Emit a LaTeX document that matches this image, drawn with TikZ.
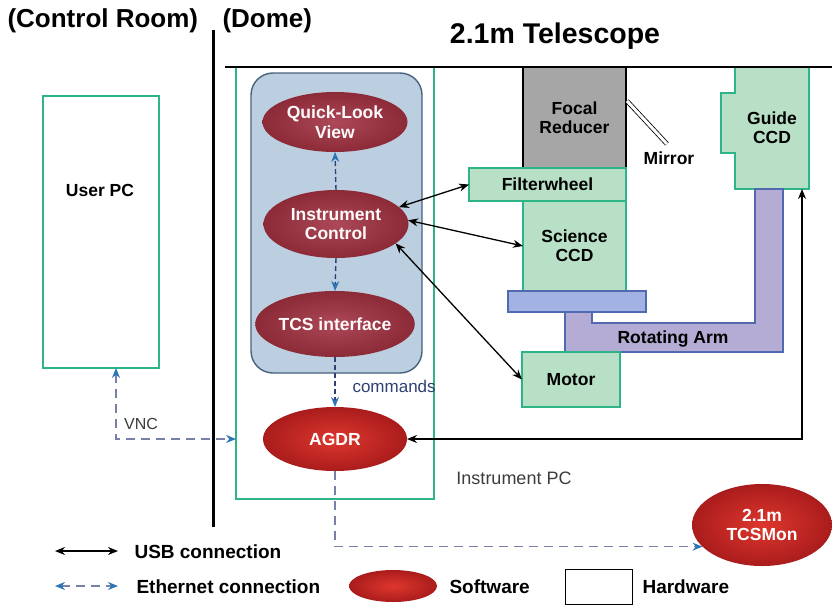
\documentclass[tikz,border=0pt]{standalone}
\usepackage{fontspec}
\setmainfont{Liberation Sans}
\usetikzlibrary{arrows.meta,shapes.geometric,calc}
\definecolor{hwfill}{RGB}{184,224,198}
\definecolor{hwdraw}{RGB}{45,180,135}
\definecolor{bluefill}{RGB}{188,207,224}
\definecolor{bluedraw}{RGB}{70,98,125}
\definecolor{swin}{RGB}{172,72,88}
\definecolor{swout}{RGB}{140,42,55}
\definecolor{redin}{RGB}{222,55,45}
\definecolor{redout}{RGB}{170,28,28}
\definecolor{frgray}{RGB}{166,166,166}
\definecolor{armfill}{RGB}{180,172,212}
\definecolor{platefill}{RGB}{162,178,226}
\definecolor{armdraw}{RGB}{80,105,175}
\definecolor{ethline}{RGB}{118,128,168}
\definecolor{ethtip}{RGB}{46,117,182}
\definecolor{navy}{RGB}{45,65,115}
\definecolor{txtgray}{RGB}{60,60,60}
\begin{document}
\begin{tikzpicture}[x=1pt,y=-1pt,
  lbl/.style={font=\bfseries\fontsize{17.5}{19}\selectfont, align=center, text=black},
  leg/.style={font=\bfseries\fontsize{19}{21}\selectfont, text=black},
  hw/.style={draw=hwdraw, fill=hwfill, line width=1.4pt, inner sep=0pt, outer sep=0pt},
  hwbox/.style={draw=hwdraw, line width=1.4pt, inner sep=0pt, outer sep=0pt},
  sw/.style={ellipse, inner sep=0pt, outer sep=0pt, inner color=swin, outer color=swout,
     text=white!92!pink, font=\bfseries\fontsize{17.5}{19.5}\selectfont, align=center},
  swred/.style={ellipse, inner sep=0pt, outer sep=0pt, inner color=redin, outer color=redout,
     text=white, font=\bfseries\fontsize{17.5}{19.5}\selectfont, align=center},
  usb/.style={black, line width=1.3pt, {Stealth[length=10pt,width=8pt]}-{Stealth[length=10pt,width=8pt]}},
  ethin/.style={navy, line width=1.4pt, dash pattern=on 5pt off 3pt, -{Stealth[length=10pt,width=8pt,color=ethtip]}},
  eth/.style={ethline, line width=1.3pt, dash pattern=on 9pt off 6pt},
  ethto/.style={eth, -{Stealth[length=10pt,width=8pt,color=ethtip]}},
  ethboth/.style={eth, {Stealth[length=10pt,width=8pt,color=ethtip]}-{Stealth[length=10pt,width=8pt,color=ethtip]}}
]
\useasboundingbox (0,0) rectangle (832,606);

% titles
\node[anchor=west, font=\bfseries\fontsize{26}{28}\selectfont] (tcr) at (4,21) {(Control Room)};
\node[anchor=west, font=\bfseries\fontsize{26}{28}\selectfont] (tdome) at (219,21) {(Dome)};
\node[font=\bfseries\fontsize{28.5}{30}\selectfont] (ttel) at (555,36) {2.1m Telescope};

% user PC
\node[hwbox, minimum width=116pt, minimum height=272pt] (userpc) at (101,232) {};
\node[lbl] (userpclbl) at (100,190) {User PC};

% instrument PC (dome box)
\node[hwbox, minimum width=198pt, minimum height=432pt] (ipc) at (335,283) {};
\node[font=\fontsize{18}{20}\selectfont, text=txtgray] (ipclbl) at (514,478) {Instrument PC};

% blue software box
\node[draw=bluedraw, fill=bluefill, line width=1.4pt, rounded corners=22pt,
      minimum width=171pt, minimum height=300pt, inner sep=0pt] (swbox) at (336.5,223) {};

% software ellipses
\node[sw, minimum width=145pt, minimum height=60pt] (ql) at (335,122) {Quick-Look\\View};
\node[sw, minimum width=145pt, minimum height=68pt] (ic) at (336,224) {Instrument\\Control};
\node[sw, minimum width=144pt, minimum height=66pt] (tcs) at (335,324) {TCS interface};
\node[swred, minimum width=144pt, minimum height=64pt] (agdr) at (335,439) {AGDR};
\node[swred, minimum width=140pt, minimum height=82pt] (tcsmon) at (762,525) {2.1m\\TCSMon};

% hardware
\node[draw=black, fill=frgray, line width=1.4pt, minimum width=103pt, minimum height=101pt, inner sep=0pt, lbl] (fr) at (574.5,117.5) {Focal\\Reducer};
\node[hw, minimum width=103pt, minimum height=90pt, lbl] (sci) at (574.5,246) {Science\\CCD};
\node[hw, minimum width=157pt, minimum height=33pt, lbl] (fw) at (547.5,184.5) {Filterwheel};

% mirror
\draw[double=white, double distance=3pt, line width=0.8pt] (627,101) -- (667,144);
\node[lbl] (mirlbl) at (669,158) {Mirror};

% guide CCD
\draw[hw] (735,67) -- (809,67) -- (809,189) -- (735,189) -- (735,153) -- (721,153) -- (721,93) -- (735,93) -- cycle;
\node[minimum width=74pt, minimum height=122pt, inner sep=0pt, outer sep=0pt, lbl] (gccd) at (772,128) {Guide\\CCD};

% rotating arm
\draw[fill=armfill, draw=armdraw, line width=1.2pt] (565,311) -- (592,311) -- (592,323) -- (755,323) -- (755,189) -- (783,189) -- (783,352) -- (565,352) -- cycle;
\node[draw=armdraw, fill=platefill, line width=1.2pt, minimum width=138pt, minimum height=21pt, inner sep=0pt] (plate) at (577,301.5) {};
\node[lbl] (armlbl) at (673,339) {Rotating Arm};

\node[hw, minimum width=98pt, minimum height=55pt, lbl] (motor) at (571,379.5) {Motor};

% top and dividing lines
\draw[line width=2.5pt] (225,67) -- (832,67);
\draw[line width=3pt] (213,30) -- (213,527);

% ethernet (dashed) connections
\draw[ethin] (ic.north) -- (ql.south);
\draw[ethin] (ic.south) -- (tcs.north);
\draw[ethin] (tcs.south) -- (agdr.north);
\node[anchor=west, font=\fontsize{17}{19}\selectfont, text=navy] (cmd) at (349,386) {commands};
\draw[ethboth] ($(userpc.south)+(15,0)$) |- (ipc.west |- agdr.center);
\node[font=\fontsize{16}{18}\selectfont, text=txtgray] (vnc) at (141,424) {VNC};
\draw[ethto] (agdr.south) |- (tcsmon.200);

% USB connections
\draw[usb] (ic.15) -- (fw.west);
\draw[usb] (ic.3) -- (sci.west);
\draw[usb] (ic.-18) -- (motor.west);
\draw[usb] (agdr.east) -| ($(gccd.south)+(30,0)$);

% legend
\coordinate (l1a) at (55,551); \coordinate (l1b) at (118,551);
\draw[usb] (l1a) -- (l1b);
\node[anchor=west, leg] (l1t) at (131,552) {USB connection};
\coordinate (l2a) at (55,586); \coordinate (l2b) at (118,586);
\draw[ethboth] (l2a) -- (l2b);
\node[anchor=west, leg] (l2t) at (133,587) {Ethernet connection};
\node[swred, minimum width=88pt, minimum height=32pt] (lsw) at (393,586) {};
\node[anchor=west, leg] (lswt) at (446,587) {Software};
\node[draw=black, line width=0.8pt, minimum width=67pt, minimum height=35pt, inner sep=0pt] (lhw) at (598.5,586.5) {};
\node[anchor=west, leg] (lhwt) at (639,587) {Hardware};
\end{tikzpicture}
\end{document}
